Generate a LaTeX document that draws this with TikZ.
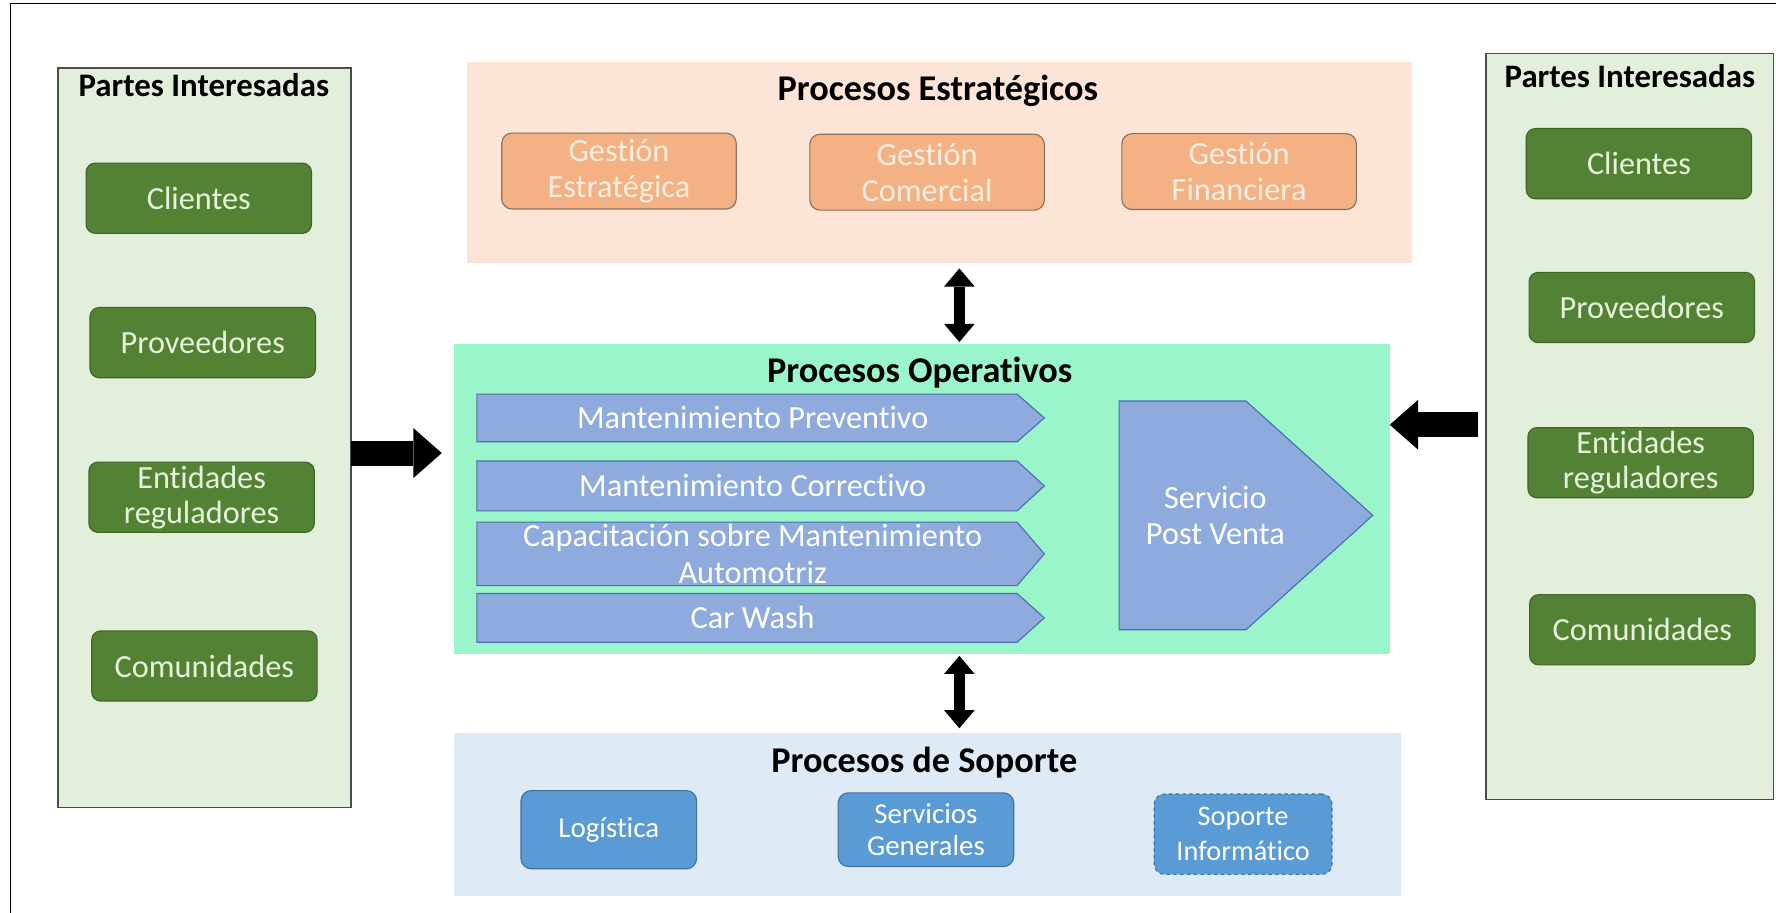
\documentclass[tikz,border=0pt]{standalone}
\usepackage{fontspec}
\setmainfont[Ligatures={NoCommon}]{Carlito}
\usetikzlibrary{arrows.meta}
\definecolor{pgreen}{HTML}{E2EFDA}
\definecolor{gfill}{HTML}{548235}
\definecolor{gborder}{HTML}{3F6428}
\definecolor{gtext}{HTML}{E6F2DC}
\definecolor{estrfill}{HTML}{FCE5D6}
\definecolor{ofill}{HTML}{F4B183}
\definecolor{oborder}{HTML}{8A7060}
\definecolor{otext}{HTML}{FDEEE2}
\definecolor{operfill}{HTML}{9AF5CA}
\definecolor{chfill}{HTML}{8FAADC}
\definecolor{chborder}{HTML}{4A6FB0}
\definecolor{sopfill}{HTML}{DEEBF7}
\definecolor{bfill}{HTML}{5B9BD5}
\definecolor{bborder}{HTML}{41719C}
\begin{document}
\begin{tikzpicture}[x=1pt,y=-1pt,
  sidepanel/.style={draw=black!70, line width=1.3pt, fill=pgreen, inner sep=0pt, outer sep=0pt},
  flatpanel/.style={inner sep=0pt, outer sep=0pt},
  gbox/.style={draw=gborder, line width=1pt, fill=gfill, rounded corners=8pt, text=gtext,
    minimum width=199pt, minimum height=62pt, align=center, inner sep=0pt,
    font=\fontsize{28.5}{31}\selectfont},
  obox/.style={draw=oborder, line width=1pt, fill=ofill, rounded corners=9pt, text=otext,
    minimum width=207pt, minimum height=67pt, align=center, inner sep=0pt,
    font=\fontsize{28.5}{32}\selectfont},
  bbox/.style={draw=bborder, line width=1pt, fill=bfill, rounded corners=9pt, text=white,
    minimum width=155pt, minimum height=67pt, align=center, inner sep=0pt,
    font=\fontsize{25.5}{29}\selectfont},
  chevbox/.style={minimum width=477pt, inner sep=0pt, outer sep=0pt},
  chevshape/.style={fill=chfill, draw=chborder, line width=1pt},
  chevtext/.style={text=white, align=center, font=\fontsize{28.5}{32}\selectfont},
  ptitle/.style={font=\bfseries\fontsize{29}{32}\selectfont, text=black},
  proctitle/.style={font=\bfseries\fontsize{32}{34}\selectfont, text=black},
  blockarrow/.style={draw=black, line width=22pt,
    -{Triangle[length=25pt,width=44pt,line width=0pt]}},
  dblarrow/.style={draw=black, line width=10pt,
    {Triangle[length=16pt,width=27pt,line width=0pt]}-{Triangle[length=16pt,width=27pt,line width=0pt]}}
]
\useasboundingbox (0,0) rectangle (1568,806);
\fill[white] (0,0) rectangle (1568,806);
\draw[line width=1.2pt] (9,810) -- (9,3) -- (1572,3);

% side panels
\node[sidepanel, minimum width=259pt, minimum height=653pt] (lp) at (180.5,386.5) {};
\node[sidepanel, minimum width=254pt, minimum height=659pt] (rp) at (1439,376.5) {};
\node[ptitle] (lpt) at (180,75) {Partes Interesadas};
\node[ptitle] (rpt) at (1439,67) {Partes Interesadas};

\node[gbox] (lc) at (175.5,175) {Clientes};
\node[gbox] (lpv) at (179,302.5) {Proveedores};
\node[gbox] (le) at (178,439) {Entidades\\reguladores};
\node[gbox] (lcm) at (180.5,588) {Comunidades};

\node[gbox] (rc) at (1447,144.5) {Clientes};
\node[gbox] (rpv) at (1449.5,271.5) {Proveedores};
\node[gbox] (re) at (1448.5,408.5) {Entidades\\reguladores};
\node[gbox] (rcm) at (1450,556) {Comunidades};

% estrategicos
\node[flatpanel, fill=estrfill, minimum width=835pt, minimum height=177pt] (ep) at (829.5,143.5) {};
\node[proctitle] (ept) at (828,80) {Procesos Estratégicos};
\node[obox] (ge) at (546.5,151) {Gestión\\Estratégica};
\node[obox] (gc) at (818.5,152) {Gestión\\Comercial};
\node[obox] (gf) at (1094,151.5) {Gestión\\Financiera};

% operativos
\node[flatpanel, fill=operfill, minimum width=826pt, minimum height=273pt] (op) at (814,440.5) {};
\node[proctitle] (opt) at (812,329) {Procesos Operativos};

\node[chevbox, minimum height=42pt] (mp) at (659.5,369) {};
\path[chevshape] (mp.north west) -- (mp.north east) -- ([xshift=24pt]mp.east) -- (mp.south east) -- (mp.south west) -- cycle;
\node[chevtext] (mpt) at ([xshift=5pt]mp.center) {Mantenimiento Preventivo};

\node[chevbox, minimum height=44pt] (mc) at (659.5,429) {};
\path[chevshape] (mc.north west) -- (mc.north east) -- ([xshift=24pt]mc.east) -- (mc.south east) -- (mc.south west) -- cycle;
\node[chevtext] (mct) at ([xshift=5pt]mc.center) {Mantenimiento Correctivo};

\node[chevbox, minimum height=56pt] (ca) at (659.5,489) {};
\path[chevshape] (ca.north west) -- (ca.north east) -- ([xshift=24pt]ca.east) -- (ca.south east) -- (ca.south west) -- cycle;
\node[chevtext] (cat) at ([xshift=5pt]ca.center) {Capacitación sobre Mantenimiento\\Automotriz};

\node[chevbox, minimum height=43pt] (cw) at (659.5,545.5) {};
\path[chevshape] (cw.north west) -- (cw.north east) -- ([xshift=24pt]cw.east) -- (cw.south east) -- (cw.south west) -- cycle;
\node[chevtext] (cwt) at ([xshift=5pt]cw.center) {Car Wash};

\path[chevshape] (988,354) -- (1100,354) -- (1212,455) -- (1100,556) -- (988,556) -- cycle;
\node[chevtext] (spv) at (1073,455) {Servicio\\Post Venta};

% soporte
\node[flatpanel, fill=sopfill, minimum width=836pt, minimum height=144pt] (sp) at (819,719) {};
\node[proctitle] (spt) at (816,673) {Procesos de Soporte};
\node[bbox, minimum height=69pt] (lg) at (537.5,732.5) {Logística};
\node[bbox, minimum height=65pt, font=\fontsize{25.5}{28}\selectfont] (sg) at (817.5,732.5) {Servicios\\Generales};
\node[bbox, minimum width=157pt, minimum height=71pt, dashed, font=\fontsize{25}{31}\selectfont] (si) at (1097.5,736.5) {Soporte\\Informático};

% arrows
\draw[blockarrow] (lp.east |- 0,400) -- ([xshift=-11pt]op.west |- 0,400);
\draw[blockarrow] ([xshift=-7pt]rp.west |- 0,375) -- (op.east |- 0,375);
\draw[dblarrow] ([yshift=-5pt]ep.south -| 847,0) -- ([yshift=2pt]op.north -| 847,0);
\draw[dblarrow] ([yshift=-2pt]op.south -| 847,0) -- ([yshift=4pt]sp.north -| 847,0);
\end{tikzpicture}
\end{document}
